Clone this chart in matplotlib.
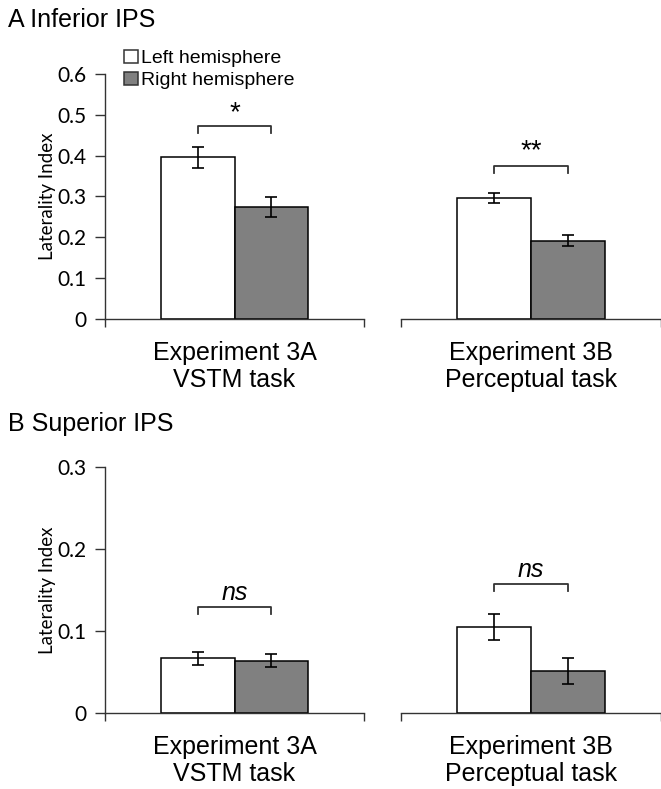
import matplotlib
matplotlib.use("Agg")
import matplotlib.pyplot as plt
from matplotlib import rcParams

rcParams['font.family'] = ['Liberation Sans', 'DejaVu Sans']
rcParams['axes.linewidth'] = 1.0

# data: [Experiment 3A, Experiment 3B]
experiments = ['Experiment 3A\nVSTM task', 'Experiment 3B\nPerceptual task']
series = ['Left hemisphere', 'Right hemisphere']

inf_left = [0.396, 0.297]
inf_left_err = [0.025, 0.012]
inf_right = [0.275, 0.192]
inf_right_err = [0.024, 0.014]

sup_left = [0.067, 0.105]
sup_left_err = [0.008, 0.016]
sup_right = [0.064, 0.051]
sup_right_err = [0.008, 0.016]

inf_sig = ['*', '**']
sup_sig = ['ns', 'ns']

W, H = 661, 789
fig = plt.figure(figsize=(W / 100, H / 100), dpi=100)
fig.patch.set_facecolor('white')

tick_font = 'Lato'
bw = 0.285


def px_axes(x0, x1, y_top, y_bot):
    return fig.add_axes([x0 / W, 1 - y_bot / H, (x1 - x0) / W, (y_bot - y_top) / H])


def draw_panel(y_top, y_bot, ymax, yticks, lv, le, rv, re, sigs, br_y, txt_y, italic):
    axes = [px_axes(105, 364, y_top, y_bot), px_axes(401, 661, y_top, y_bot)]
    for i, ax in enumerate(axes):
        ax.bar(0.5 - bw / 2, lv[i], bw, color='white', edgecolor='black', linewidth=1.1,
               yerr=le[i], capsize=4, error_kw=dict(elinewidth=1.2, capthick=1.2), zorder=2)
        ax.bar(0.5 + bw / 2, rv[i], bw, color='#808080', edgecolor='black', linewidth=1.1,
               yerr=re[i], capsize=4, error_kw=dict(elinewidth=1.2, capthick=1.2), zorder=2)
        ax.set_xlim(0, 1)
        ax.set_ylim(0, ymax)
        ax.spines['top'].set_visible(False)
        ax.spines['right'].set_visible(False)
        ax.spines['bottom'].set_color('#333333')
        ax.set_xticks([0, 1])
        ax.set_xticklabels([])
        ax.tick_params(axis='x', direction='out', length=6, width=1, color='#333333')
        ax.set_xlabel(experiments[i], fontsize=18, labelpad=6, linespacing=1.17)
        if i == 0:
            ax.spines['left'].set_color('#333333')
            ax.set_yticks(yticks)
            ax.set_yticklabels(['0' if t == 0 else f'{t:.1f}' for t in yticks],
                               fontsize=15, family=tick_font)
            ax.tick_params(axis='y', direction='out', length=7, width=1, pad=6,
                           color='#333333')
            ax.set_ylabel('Laterality Index', fontsize=13.5, family=tick_font, labelpad=1)
        else:
            ax.spines['left'].set_visible(False)
            ax.set_yticks([])
        # significance bracket
        x1, x2 = 0.5 - bw / 2, 0.5 + bw / 2
        d = ymax * 0.028
        ax.plot([x1, x1, x2, x2], [br_y[i] - d, br_y[i], br_y[i], br_y[i] - d],
                color='#333333', lw=1.3, zorder=3)
        if italic:
            ax.text(0.5, txt_y[i], sigs[i], ha='center', va='center',
                    fontsize=18, style='italic')
        else:
            ax.text(0.5, txt_y[i], sigs[i], ha='center', va='center', fontsize=20)
    return axes


axA = draw_panel(74, 319, 0.6, [0, 0.1, 0.2, 0.3, 0.4, 0.5, 0.6],
                 inf_left, inf_left_err, inf_right, inf_right_err,
                 inf_sig, [0.473, 0.375], [0.505, 0.41], False)
axB = draw_panel(467, 713, 0.3, [0, 0.1, 0.2, 0.3],
                 sup_left, sup_left_err, sup_right, sup_right_err,
                 sup_sig, [0.129, 0.157], [0.146, 0.174], True)

fig.text(8 / W, 1 - 20 / H, 'A Inferior IPS', fontsize=18, va='center', ha='left')
fig.text(8 / W, 1 - 424 / H, 'B Superior IPS', fontsize=18, va='center', ha='left')

# legend
for j, (lab, col) in enumerate(zip(series, ['white', '#808080'])):
    yb = 63 + j * 22
    fig.patches.append(plt.Rectangle((124 / W, 1 - (yb) / H), 14 / W, 13 / H,
                                     transform=fig.transFigure, facecolor=col,
                                     edgecolor='#333333', linewidth=1.1))
    fig.text(141 / W, 1 - yb / H, lab, fontsize=14, va='baseline', ha='left')

fig.savefig('out.png', dpi=100)
